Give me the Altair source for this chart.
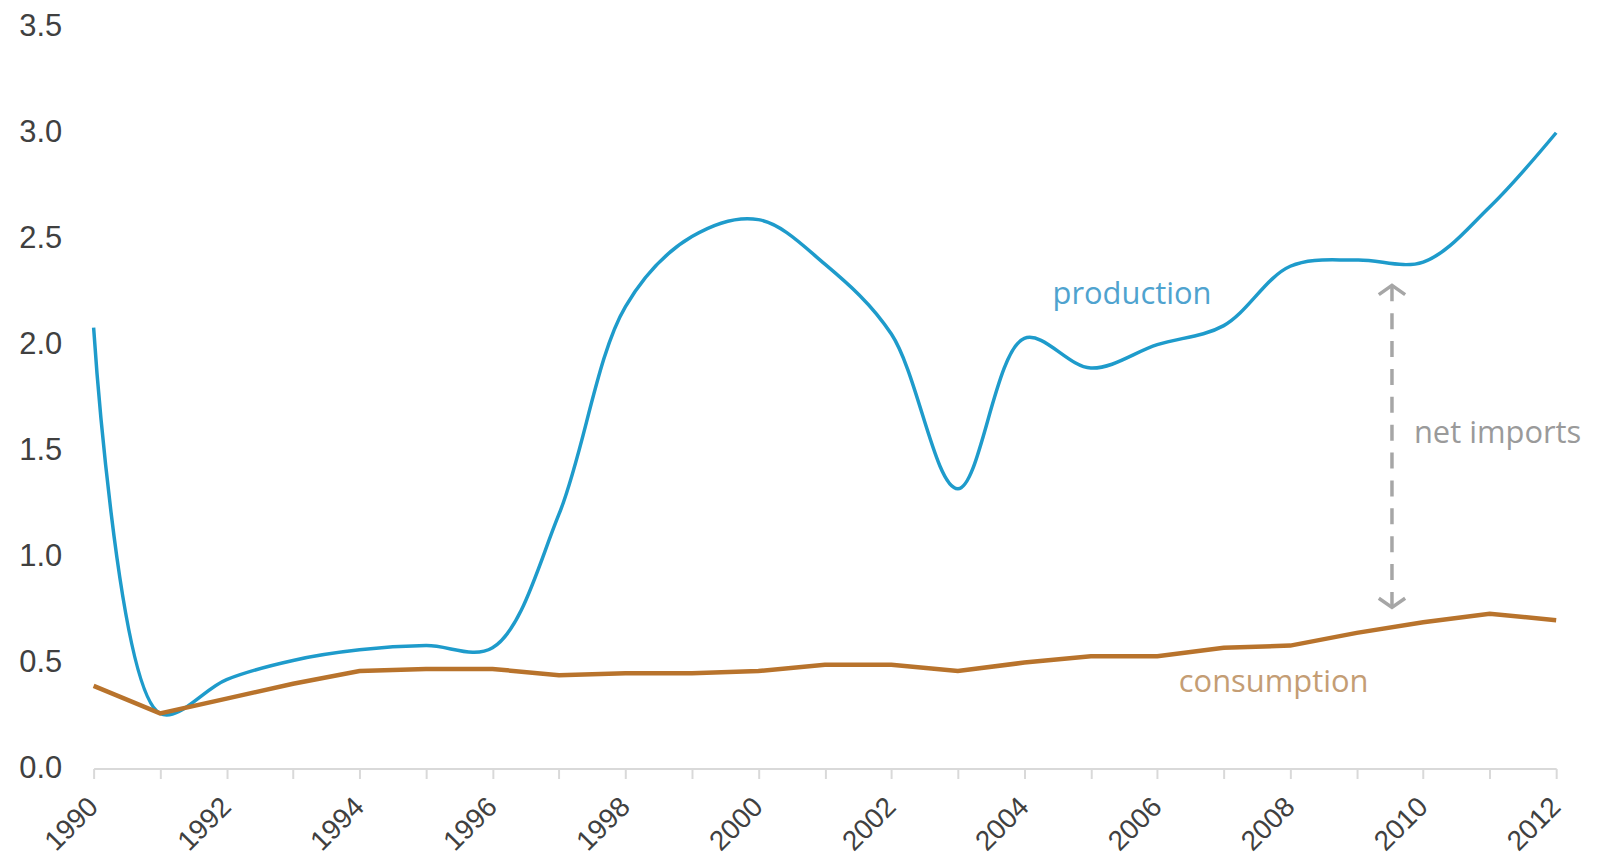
import altair as alt
import pandas as pd

years = list(range(1990, 2013))
production = [2.08, 0.26, 0.42, 0.51, 0.56, 0.58, 0.57, 1.20, 2.18, 2.51, 2.59, 2.38, 2.05,
              1.32, 2.03, 1.89, 2.00, 2.09, 2.37, 2.40, 2.39, 2.65, 3.00]
consumption = [0.39, 0.26, 0.33, 0.40, 0.46, 0.47, 0.47, 0.44, 0.45, 0.45, 0.46, 0.49, 0.49,
               0.46, 0.50, 0.53, 0.53, 0.57, 0.58, 0.64, 0.69, 0.73, 0.70]

y_ticks = [0, 0.5, 1.0, 1.5, 2.0, 2.5, 3.0, 3.5]

label_text = ["production", "consumption", "net imports"]
label_year = [2005.62, 2007.75, 2009.86]
label_value = [2.236, 0.404, 1.578]
label_color = ["#4fa3cf", "#c49d74", "#9a9a9a"]
label_align = ["center", "center", "left"]

arrow_year = [2009.53, 2009.53]
arrow_value = [2.28, 0.76]

blue = "#1e9bcb"
brown = "#b8732c"

prod_df = pd.DataFrame({"year": years, "value": production})
cons_df = pd.DataFrame({"year": years, "value": consumption})

x_enc = alt.X("year:Q",
              scale=alt.Scale(domain=[1990, 2012], nice=False, zero=False),
              axis=alt.Axis(values=years, format="d",
                            labelExpr="datum.value % 2 == 0 ? datum.label : ''",
                            labelAngle=-45, labelAlign="right", labelBaseline="middle",
                            labelFontSize=28, labelColor="#404040", labelFont="Liberation Sans",
                            labelPadding=24, domainColor="#d9d9d9", domainWidth=2,
                            tickColor="#d9d9d9", tickSize=10, tickWidth=2, grid=False,
                            title=None, labelOverlap=False))
y_enc = alt.Y("value:Q",
              scale=alt.Scale(domain=[0, 3.5], nice=False),
              axis=alt.Axis(values=y_ticks, format=".1f", domain=False, ticks=False, grid=False,
                            labelFontSize=31, labelColor="#404040", labelFont="Liberation Sans",
                            labelPadding=32, title=None))

prod_line = alt.Chart(prod_df).mark_line(color=blue, strokeWidth=3.5, interpolate="catmull-rom").encode(
    x=x_enc, y=y_enc)
cons_line = alt.Chart(cons_df).mark_line(color=brown, strokeWidth=4.5).encode(x="year:Q", y="value:Q")

arrow_df = pd.DataFrame({"year": arrow_year, "value": arrow_value})
arrow_line = alt.Chart(arrow_df).mark_line(color="#a6a6a6", strokeWidth=3.5, strokeDash=[16, 12]).encode(
    x="year:Q", y="value:Q")
head_top = alt.Chart(arrow_df.iloc[[0]]).mark_point(
    shape="M-1,0.7L0,0L1,0.7", filled=False, size=700, color="#a6a6a6", strokeWidth=3.5, opacity=1
).encode(x="year:Q", y="value:Q")
head_bot = alt.Chart(arrow_df.iloc[[1]]).mark_point(
    shape="M-1,-0.7L0,0L1,-0.7", filled=False, size=700, color="#a6a6a6", strokeWidth=3.5, opacity=1
).encode(x="year:Q", y="value:Q")

lab_df = pd.DataFrame({"text": label_text, "year": label_year, "value": label_value})
texts = []
for i in range(len(label_text)):
    texts.append(alt.Chart(lab_df.iloc[[i]]).mark_text(
        fontSize=31, font="Open Sans", align=label_align[i], baseline="middle",
        color=label_color[i]).encode(x="year:Q", y="value:Q", text="text:N"))

chart = alt.layer(prod_line, cons_line, arrow_line, head_top, head_bot, *texts).properties(
    width=1469, height=745,
    autosize=alt.AutoSizeParams(type="none"),
    padding={"left": 86, "top": 17, "right": 40, "bottom": 90},
    background="white",
).configure_view(strokeWidth=0)

chart.save("out.html", embed_options={"renderer": "svg", "actions": False})
